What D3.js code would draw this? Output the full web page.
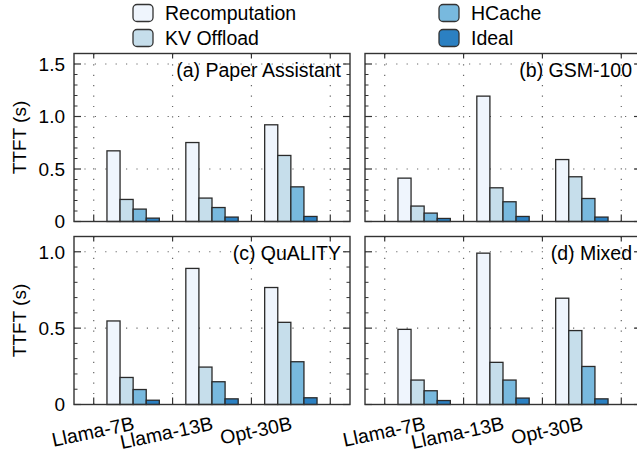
<!DOCTYPE html>
<html><head><meta charset="utf-8">
<script src="https://cdn.jsdelivr.net/npm/d3@7/dist/d3.min.js"></script>
<style>body{margin:0;background:#fff;} svg{display:block;font-family:"Liberation Sans",Arial,sans-serif;}</style>
</head><body><svg id="c" width="637" height="456"></svg>
<script>
const models = ["Llama-7B", "Llama-13B", "Opt-30B"];
const seriesNames = ["Recomputation", "KV Offload", "HCache", "Ideal"];
const colors = ["#eff5fd", "#c6deeb", "#78b9de", "#2b80c2"];
const panelTitles = ["(a) Paper Assistant", "(b) GSM-100", "(c) QuALITY", "(d) Mixed"];
// values per panel: [series][model]
const paperAssistant = [[0.673, 0.752, 0.921], [0.210, 0.223, 0.629], [0.118, 0.133, 0.330], [0.032, 0.042, 0.048]];
const gsm100 = [[0.413, 1.194, 0.590], [0.147, 0.321, 0.426], [0.080, 0.188, 0.219], [0.029, 0.048, 0.042]];
const quality = [[0.547, 0.891, 0.766], [0.177, 0.245, 0.538], [0.098, 0.149, 0.280], [0.028, 0.037, 0.044]];
const mixed = [[0.492, 0.991, 0.696], [0.160, 0.276, 0.484], [0.090, 0.160, 0.249], [0.026, 0.042, 0.037]];
const yMaxTop = 1.6, yMaxBottom = 1.1;
const yTicksTop = [0, 0.5, 1.0, 1.5];
const yTickLabelsTop = ["0", "0.5", "1.0", "1.5"];
const yTicksBottom = [0, 0.5, 1.0];
const yTickLabelsBottom = ["0", "0.5", "1.0"];
const yLabel = "TTFT (s)";

const svg = d3.select("#c");
const ink = "#333";
const textCol = "#000";
const panels = [
  {data: paperAssistant, title: panelTitles[0], x0: 74, y0: 53.5, ymax: yMaxTop, ticks: yTicksTop, labels: yTickLabelsTop, left: true, bottom: false},
  {data: gsm100, title: panelTitles[1], x0: 365, y0: 53.5, ymax: yMaxTop, ticks: yTicksTop, labels: yTickLabelsTop, left: false, bottom: false},
  {data: quality, title: panelTitles[2], x0: 74, y0: 236.5, ymax: yMaxBottom, ticks: yTicksBottom, labels: yTickLabelsBottom, left: true, bottom: true},
  {data: mixed, title: panelTitles[3], x0: 365, y0: 236.5, ymax: yMaxBottom, ticks: yTicksBottom, labels: yTickLabelsBottom, left: false, bottom: true},
];
const W = 276, H = 168;
const barW = 0.166;

panels.forEach(p => {
  const x = d3.scaleLinear().domain([-0.75, 2.75]).range([p.x0, p.x0 + W]);
  const y = d3.scaleLinear().domain([0, p.ymax]).range([p.y0 + H, p.y0]);
  const g = svg.append("g");
  const xGrid = [-0.5, 0.5, 1.5, 2.5];
  // grid
  g.selectAll(".vg").data(xGrid).join("line")
    .attr("x1", d => x(d)).attr("x2", d => x(d)).attr("y1", p.y0 + H).attr("y2", p.y0)
    .attr("stroke", "#666").attr("stroke-width", 1.2).attr("stroke-dasharray", "1.2,9.2");
  g.selectAll(".hg").data(p.ticks.filter(t => t > 0)).join("line")
    .attr("x1", p.x0).attr("x2", p.x0 + W).attr("y1", d => y(d)).attr("y2", d => y(d))
    .attr("stroke", "#666").attr("stroke-width", 1.2).attr("stroke-dasharray", "1.2,9.2");
  // minor ticks (every 0.1)
  const minor = d3.range(1, Math.floor(p.ymax * 10 + 1e-6) + 1).map(i => i / 10).filter(v => Math.abs(v * 2 - Math.round(v * 2)) > 1e-6);
  [p.x0, p.x0 + W].forEach((ex, k) => {
    const dir = k === 0 ? 1 : -1;
    g.selectAll(null).data(minor).join("line")
      .attr("x1", ex).attr("x2", ex + dir * 3.5).attr("y1", d => y(d)).attr("y2", d => y(d))
      .attr("stroke", ink).attr("stroke-width", 1);
    g.selectAll(null).data(p.ticks).join("line")
      .attr("x1", ex).attr("x2", ex + dir * 7).attr("y1", d => y(d)).attr("y2", d => y(d))
      .attr("stroke", ink).attr("stroke-width", 1.2);
  });
  // x ticks top & bottom
  g.selectAll(null).data(xGrid).join("line")
    .attr("x1", d => x(d)).attr("x2", d => x(d)).attr("y1", p.y0 + H).attr("y2", p.y0 + H - 7)
    .attr("stroke", ink).attr("stroke-width", 1.2);
  g.selectAll(null).data(xGrid).join("line")
    .attr("x1", d => x(d)).attr("x2", d => x(d)).attr("y1", p.y0).attr("y2", p.y0 + 5)
    .attr("stroke", ink).attr("stroke-width", 1.2);
  // bars
  p.data.forEach((vals, s) => {
    g.selectAll(null).data(vals).join("rect")
      .attr("x", (d, i) => x(i + (s - 2) * barW))
      .attr("width", x(barW) - x(0))
      .attr("y", d => y(d))
      .attr("height", d => y(0) - y(d))
      .attr("fill", colors[s]).attr("stroke", "#2a2a2a").attr("stroke-width", 1.3);
  });
  // frame
  g.append("rect").attr("x", p.x0).attr("y", p.y0).attr("width", W).attr("height", H)
    .attr("fill", "none").attr("stroke", ink).attr("stroke-width", 1.4);
  // title
  g.append("text").attr("x", p.x0 + W - 9).attr("y", p.y0 + 23)
    .attr("text-anchor", "end").attr("font-size", 19.5).attr("fill", textCol).text(p.title);
  if (p.left) {
    g.selectAll(null).data(p.ticks).join("text")
      .attr("x", p.x0 - 9).attr("y", d => y(d)).attr("dy", "0.36em")
      .attr("text-anchor", "end").attr("font-size", 19).attr("fill", textCol)
      .text((d, i) => p.labels[i]);
    g.append("text").attr("transform", `translate(26,${p.y0 + H / 2}) rotate(-90)`)
      .attr("text-anchor", "middle").attr("font-size", 19).attr("fill", textCol).text(yLabel);
  }
  if (p.bottom) {
    g.selectAll(null).data(models).join("text")
      .attr("transform", (d, i) => `translate(${x(i) + 2},${p.y0 + H + 25}) rotate(-12)`)
      .attr("text-anchor", "end").attr("font-size", 19.5).attr("fill", textCol).text(d => d);
  }
});

// legend
const legendPos = [[133, 4.5], [133, 29.5], [439, 4.5], [439, 29.5]];
seriesNames.forEach((name, i) => {
  const [lx, ly] = legendPos[i];
  svg.append("rect").attr("x", lx).attr("y", ly).attr("width", 20).attr("height", 17).attr("rx", 4)
    .attr("fill", colors[i]).attr("stroke", "#333").attr("stroke-width", 1.3);
  svg.append("text").attr("x", lx + 32).attr("y", ly + 15.5).attr("font-size", 19.5).attr("fill", textCol).text(name);
});
</script></body></html>
